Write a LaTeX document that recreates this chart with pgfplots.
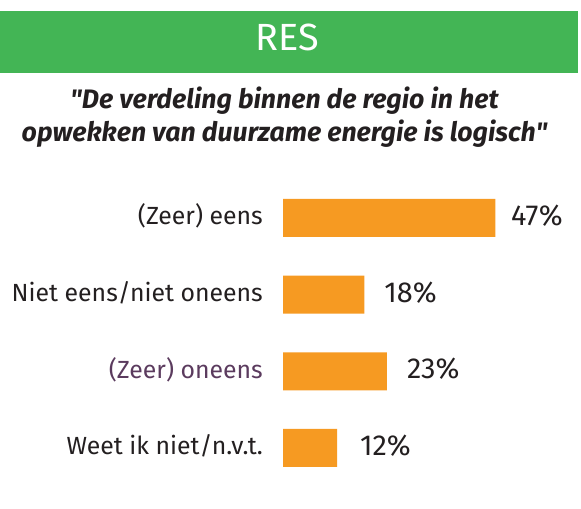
\documentclass[border=0pt]{standalone}
\usepackage{fontspec}
\setmainfont{Fira Sans}
\usepackage{pgfplots}
\pgfplotsset{compat=1.18}
\definecolor{resgreen}{HTML}{43B555}
\definecolor{barorange}{HTML}{F69A22}
\definecolor{txt}{HTML}{231F20}
\definecolor{purp}{HTML}{5B3B5E}
\begin{document}
\begin{tikzpicture}[x=1bp,y=1bp]
\useasboundingbox (0,0) rectangle (581,509);
\fill[resgreen] (0,436) rectangle (578,498);
\node[anchor=base, text=white, inner sep=0pt] at (287.5,458) {\fontsize{38}{40}\selectfont RES};
\node[anchor=base, text=txt, inner sep=0pt] at (284.5,400) {\fontsize{26.8}{30}\selectfont\bfseries\itshape \textquotedbl De verdeling binnen de regio in het};
\node[anchor=base, text=txt, inner sep=0pt] at (284.5,367.3) {\fontsize{26.8}{30}\selectfont\bfseries\itshape opwekken van duurzame energie is logisch\textquotedbl};
\begin{axis}[
  at={(283bp,22.7bp)}, anchor=south west,
  scale only axis, width=293.8bp, height=306.7bp,
  xmin=0, xmax=65, ymin=-0.5, ymax=3.5, y dir=reverse,
  axis line style={draw=none}, tick style={draw=none},
  xtick=\empty, ytick={0,1,2,3},
  yticklabels={{(Zeer) eens},{Niet eens/niet oneens},{\color{purp}(Zeer) oneens},{Weet ik niet/n.v.t.}},
  yticklabel style={anchor=base east, inner sep=0pt, xshift=-20bp, yshift=-7bp, text=txt, font=\fontsize{24.9}{28}\selectfont},
  /pgf/number format/assume math mode=true,
  clip=false,
]
\addplot[xbar, bar width=38bp, fill=barorange, draw=none] coordinates {(47,0) (18,1) (23,2) (12,3)};
\addplot[only marks, mark=none, point meta=explicit,
  nodes near coords={\pgfmathprintnumber{\pgfplotspointmeta}\%},
  every node near coord/.append style={anchor=base west, inner sep=0pt, yshift=-7.5bp, text=txt, font=\fontsize{29}{32}\selectfont}]
  table[x=lx, y=y, meta=v] {
  lx y v
  50.4 0 47
  22.4 1 18
  27.4 2 23
  17.0 3 12
};
\end{axis}
\end{tikzpicture}
\end{document}
